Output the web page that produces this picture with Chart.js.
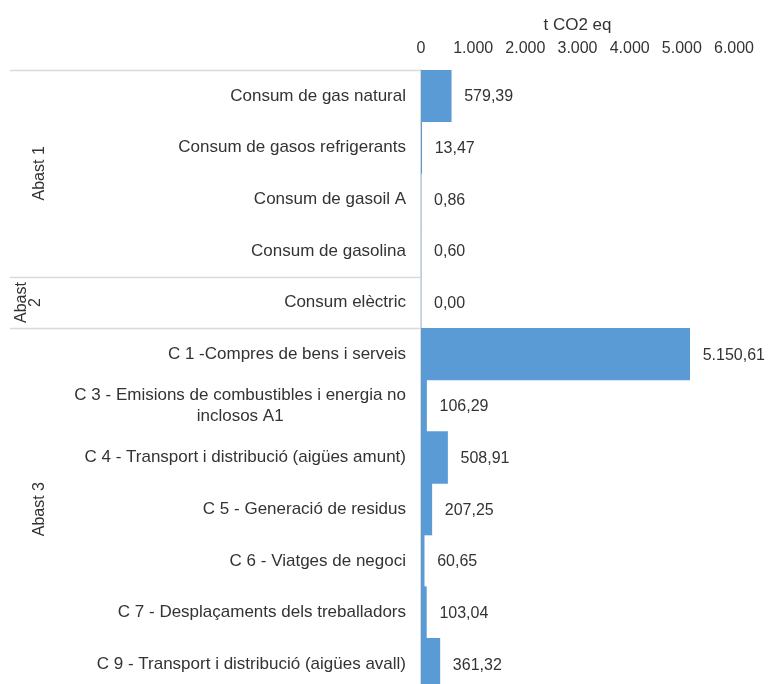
<!DOCTYPE html>
<html>
<head>
<meta charset="utf-8">
<script src="https://cdn.jsdelivr.net/npm/chart.js@4/dist/chart.umd.min.js"></script>
<style>
  html, body { margin: 0; padding: 0; background: #fff; overflow: hidden; }
  #wrap { position: relative; width: 771px; height: 692px; }
</style>
</head>
<body>
<div id="wrap"><canvas id="emissionsChart"></canvas></div>
<script>
// Emissions per source (t CO2 eq), grouped by scope
const categories = [
  "Consum de gas natural",
  "Consum de gasos refrigerants",
  "Consum de gasoil A",
  "Consum de gasolina",
  "Consum elèctric",
  "C 1 -Compres de bens i serveis",
  ["C 3 - Emisions de combustibles i energia no", "inclosos A1"],
  "C 4 - Transport i distribució (aigües amunt)",
  "C 5 - Generació de residus",
  "C 6 - Viatges de negoci",
  "C 7 - Desplaçaments dels treballadors",
  "C 9 - Transport i distribució (aigües avall)"
];
const emissions = [579.39, 13.47, 0.86, 0.60, 0.00, 5150.61, 106.29, 508.91, 207.25, 60.65, 103.04, 361.32];
const groupLabels = [["Abast 1"], ["Abast", "2"], ["Abast 3"]];
const groupSizes = [4, 1, 7];
const axisTitle = "t CO2 eq";
const axisMin = 0;
const axisMax = 6000;
const axisStep = 1000;

const FONT = "'Liberation Sans', Arial, sans-serif";
const TEXT = "#333333";
const LINE = "#d9d9d9";

function thousands(s) {
  return s.replace(/\B(?=(\d{3})+(?!\d))/g, ".");
}
function fmtValue(v) {
  const parts = v.toFixed(2).split(".");
  return thousands(parts[0]) + "," + parts[1];
}

// value labels to the right of each bar
const valueLabels = {
  id: "valueLabels",
  afterDatasetsDraw(chart) {
    const ctx = chart.ctx;
    const meta = chart.getDatasetMeta(0);
    ctx.save();
    ctx.font = "16px " + FONT;
    ctx.fillStyle = TEXT;
    ctx.textAlign = "left";
    ctx.textBaseline = "middle";
    meta.data.forEach((bar, i) => {
      ctx.fillText(fmtValue(emissions[i]), bar.x + 13, bar.y + 1);
    });
    ctx.restore();
  }
};

// category names, scope names and the separator lines on the left
const sideLabels = {
  id: "sideLabels",
  afterDraw(chart) {
    const ctx = chart.ctx;
    const yScale = chart.scales.y;
    const left = chart.chartArea.left;
    const rowH = Math.abs(yScale.getPixelForValue(1) - yScale.getPixelForValue(0));
    ctx.save();

    ctx.font = "17px " + FONT;
    ctx.fillStyle = TEXT;
    ctx.textBaseline = "middle";
    const rightX = left - 15;
    categories.forEach((label, i) => {
      const y = yScale.getPixelForValue(i);
      const lines = Array.isArray(label) ? label : [label];
      const blockW = Math.max(...lines.map(l => ctx.measureText(l).width));
      const cx = rightX - blockW / 2;
      const lh = 21;
      ctx.textAlign = "center";
      lines.forEach((l, k) => {
        ctx.fillText(l, cx, y + (k - (lines.length - 1) / 2) * lh);
      });
    });

    const groupX = [40, 29, 40];
    let start = 0;
    groupSizes.forEach((n, g) => {
      const top = yScale.getPixelForValue(start) - rowH / 2;
      const bottom = yScale.getPixelForValue(start + n - 1) + rowH / 2;

      ctx.strokeStyle = LINE;
      ctx.lineWidth = 1.5;
      ctx.beginPath();
      ctx.moveTo(10, Math.round(top) + 0.5);
      ctx.lineTo(left, Math.round(top) + 0.5);
      ctx.stroke();

      ctx.save();
      ctx.translate(groupX[g], (top + bottom) / 2);
      ctx.rotate(-Math.PI / 2);
      ctx.font = "16px " + FONT;
      ctx.fillStyle = TEXT;
      ctx.textAlign = "center";
      ctx.textBaseline = "middle";
      const lines = groupLabels[g];
      lines.forEach((l, k) => {
        ctx.fillText(l, 0, (k - (lines.length - 1) / 2) * 14);
      });
      ctx.restore();
      start += n;
    });
    ctx.restore();
  }
};

new Chart(document.getElementById("emissionsChart"), {
  type: "bar",
  data: {
    labels: categories,
    datasets: [{
      label: axisTitle,
      data: emissions,
      backgroundColor: "#5b9bd5",
      borderWidth: 0,
      categoryPercentage: 1.0,
      barPercentage: 1.0
    }]
  },
  options: {
    indexAxis: "y",
    responsive: true,
    maintainAspectRatio: false,
    animation: false,
    layout: { padding: { left: 0, right: 37, top: 0, bottom: 2 } },
    plugins: {
      legend: { display: false },
      tooltip: { enabled: false }
    },
    scales: {
      x: {
        position: "top",
        min: axisMin,
        max: axisMax,
        afterFit(scale) { scale.height = 70; },
        ticks: {
          stepSize: axisStep,
          padding: 12,
          color: TEXT,
          font: { family: FONT, size: 16 },
          callback: v => thousands(String(v))
        },
        grid: { display: false, drawTicks: false },
        border: { display: false },
        title: {
          display: true,
          text: axisTitle,
          color: TEXT,
          font: { family: FONT, size: 17 },
          padding: { top: 15, bottom: 0 }
        }
      },
      y: {
        afterFit(scale) { scale.width = 421; },
        ticks: { display: false },
        grid: { display: false, drawTicks: false },
        border: { display: true, color: LINE, width: 1.5 }
      }
    }
  },
  plugins: [valueLabels, sideLabels]
});
</script>
</body>
</html>
